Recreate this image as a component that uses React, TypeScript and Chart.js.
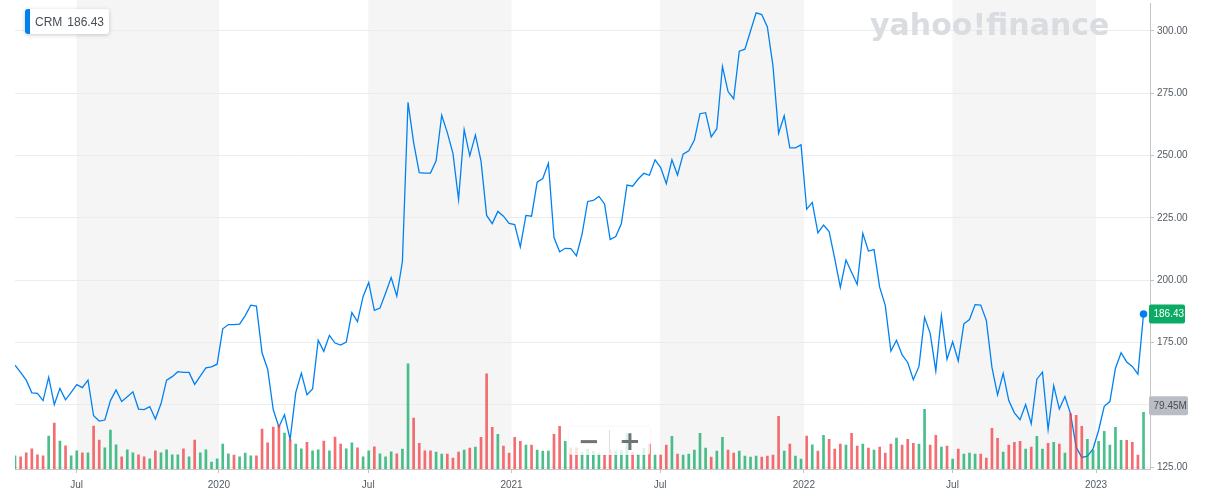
import { useEffect, useRef } from 'react';
import { Chart, registerables } from 'chart.js';

Chart.register(...registerables);

const symbol = 'CRM';

// Weekly closing prices (USD), oldest first
const closes: number[] = [
  165.9, 163.0, 159.9, 154.8, 154.6, 151.7, 161.1, 150.1, 156.6, 152.0,
  155.0, 158.1, 156.9, 159.9, 145.6, 143.5, 143.9, 151.7, 156.0, 151.3,
  153.2, 155.2, 148.3, 148.1, 149.3, 144.3, 150.4, 159.9, 161.3, 163.3,
  163.0, 163.0, 158.2, 161.5, 164.8, 165.2, 166.3, 180.5, 182.2, 182.2,
  182.4, 185.8, 190.0, 189.6, 170.9, 164.3, 148.0, 141.1, 146.0, 136.1,
  154.9, 162.7, 154.1, 156.4, 175.9, 171.5, 177.9, 174.8, 174.0, 175.2,
  187.0, 183.4, 193.5, 199.1, 187.9, 188.8, 194.8, 201.1, 193.6, 207.5,
  271.4, 255.2, 243.2, 243.0, 243.0, 247.9, 266.2, 259.2, 250.9, 232.4,
  260.4, 249.9, 258.3, 247.8, 226.0, 222.7, 227.6, 225.7, 222.8, 222.3,
  213.4, 226.0, 225.7, 239.3, 240.8, 246.9, 217.1, 211.4, 212.8, 212.7,
  209.8, 218.5, 231.6, 232.0, 233.6, 230.6, 216.3, 217.5, 222.7, 238.2,
  237.7, 240.6, 242.9, 242.1, 248.3, 245.2, 238.7, 248.3, 242.2, 250.6,
  251.9, 256.2, 266.8, 267.2, 257.5, 260.8, 285.8, 275.7, 272.8, 291.9,
  292.7, 300.0, 307.3, 306.6, 301.6, 286.0, 258.9, 266.0, 253.1, 253.1,
  254.3, 228.5, 231.2, 219.0, 222.1, 219.5, 208.7, 197.1, 208.1, 203.2,
  198.3, 218.8, 211.7, 212.3, 197.2, 189.9, 171.6, 175.9, 170.0, 167.0,
  160.1, 165.4, 185.1, 178.7, 163.6, 185.8, 168.3, 175.3, 167.6, 182.5,
  184.2, 190.2, 190.0, 183.9, 165.0, 154.0, 162.6, 151.7, 146.8, 144.0,
  150.1, 142.4, 160.3, 163.1, 140.1, 157.7, 148.3, 153.3, 146.4, 133.1,
  128.9, 129.4, 132.3, 139.8, 149.4, 151.3, 164.7, 170.9, 167.2, 165.4,
  162.3, 186.43,
];

// Weekly volume (millions of shares)
const volumesM: number[] = [
  18.5, 17.1, 22.7, 28.2, 19.9, 18.5, 46.3, 64.4, 39.3, 32.4,
  18.5, 25.4, 22.7, 22.7, 60.2, 40.7, 29.6, 54.6, 33.8, 17.1,
  26.8, 22.7, 19.9, 17.1, 14.3, 25.4, 22.7, 26.8, 19.9, 19.9,
  28.2, 17.1, 40.7, 22.7, 26.8, 9.7, 14.3, 34.8, 21.3, 19.5,
  17.1, 22.2, 18.5, 18.5, 56.0, 36.6, 58.8, 61.2, 50.5, 41.3,
  34.8, 28.2, 37.5, 25.4, 26.8, 39.3, 25.4, 44.9, 34.8, 28.2,
  36.6, 29.6, 17.1, 25.4, 31.0, 21.3, 17.1, 24.0, 21.3, 27.8,
  147.3, 71.3, 36.1, 25.4, 25.4, 23.6, 20.9, 20.9, 15.3, 23.6,
  26.4, 29.2, 30.6, 44.5, 133.4, 58.4, 48.7, 32.0, 22.2, 44.5,
  38.9, 33.4, 33.4, 26.4, 25.0, 25.0, 48.7, 59.8, 38.9, 29.6,
  29.6, 23.6, 27.8, 25.0, 22.2, 19.5, 26.4, 25.0, 26.4, 49.6,
  23.6, 20.9, 29.2, 34.8, 19.5, 19.5, 33.4, 45.9, 20.9, 19.5,
  20.9, 26.4, 50.0, 29.2, 16.7, 25.0, 44.5, 26.4, 22.2, 25.0,
  18.1, 16.7, 18.1, 16.7, 18.1, 19.5, 73.7, 25.0, 34.8, 18.1,
  13.9, 46.3, 33.8, 25.0, 47.3, 41.7, 27.8, 34.8, 33.4, 50.0,
  32.0, 34.8, 29.2, 26.4, 30.6, 22.2, 34.8, 43.5, 33.4, 41.7,
  36.1, 34.8, 83.8, 33.4, 47.3, 30.6, 32.0, 13.9, 27.8, 20.9,
  22.2, 20.9, 20.9, 15.3, 57.0, 43.1, 23.6, 33.4, 37.5, 38.9,
  27.8, 30.6, 45.9, 27.8, 36.1, 37.5, 34.8, 22.2, 77.8, 75.1,
  59.8, 41.7, 26.4, 38.9, 52.8, 33.4, 58.4, 40.3, 40.3, 37.5,
  19.5, 79.45,
];

// G = up week (green volume bar), R = down week (red volume bar)
const volumeDirection: string[] = (
  'GRRRRRGRGR' + 'GGRGRRGGGR' + 'GGRRGRGGGG' + 'RGRGGGGGGR' + 'GGGRRRRRGR' +
  'GGRGGRGRRG' + 'GRGGRGGGRG' + 'GRRRRGGRRR' + 'GRGRRRGRRR' + 'RGRGGGRRGR' +
  'RGGGGRRGGG' + 'RGGRGRRGRG' + 'GGGGRGGRRG' + 'GGGRRRRGRG' + 'GRGRGRRRGR' +
  'RGRGRRRGRR' + 'RGGRRGRGRG' + 'GGRRRRGRRR' + 'GRGGRGRGRR' + 'RGGGGGGGRR' +
  'RG'
).split('');

// x-axis labels and the week index at which each falls
const tickLabels: string[] = ['Jul', '2020', 'Jul', '2021', 'Jul', '2022', 'Jul', '2023'];
const tickIndex: number[] = [10.99, 36.32, 62.91, 88.44, 114.9, 140.5, 166.97, 192.54];

const priceTicks: number[] = [125, 150, 175, 200, 225, 250, 275, 300];
const lastVolumeLabel = '79.45M';

const FONT = "'Liberation Sans', Arial, Helvetica, sans-serif";
const LINE_BLUE = '#0081f2';
const GREEN_BAR = 'rgba(15,170,100,0.75)';
const RED_BAR = 'rgba(240,60,65,0.75)';

function roundRect(ctx: CanvasRenderingContext2D, x: number, y: number, w: number, h: number, r: number) {
  ctx.beginPath();
  ctx.moveTo(x + r, y);
  ctx.lineTo(x + w - r, y);
  ctx.quadraticCurveTo(x + w, y, x + w, y + r);
  ctx.lineTo(x + w, y + h - r);
  ctx.quadraticCurveTo(x + w, y + h, x + w - r, y + h);
  ctx.lineTo(x + r, y + h);
  ctx.quadraticCurveTo(x, y + h, x, y + h - r);
  ctx.lineTo(x, y + r);
  ctx.quadraticCurveTo(x, y, x + r, y);
  ctx.closePath();
}

const bandsPlugin = {
  id: 'bands',
  beforeDraw(chart: any) {
    const { ctx, chartArea, scales } = chart;
    const xs = scales.x;
    ctx.save();
    ctx.fillStyle = '#ffffff';
    ctx.fillRect(0, 0, chart.width, chart.height);
    ctx.fillStyle = '#f5f5f5';
    for (let k = 0; k + 1 < tickIndex.length; k += 2) {
      const a = xs.getPixelForValue(tickIndex[k]);
      const b = xs.getPixelForValue(tickIndex[k + 1]);
      ctx.fillRect(a, 0, b - a, chartArea.bottom);
    }
    ctx.restore();
  },
};

const badgesPlugin = {
  id: 'badges',
  afterDraw(chart: any) {
    const { ctx, chartArea, scales } = chart;
    const last = closes[closes.length - 1];
    const lastVol = volumesM[volumesM.length - 1];
    const py = scales.y.getPixelForValue(last);
    const vy = scales.vol.getPixelForValue(lastVol) - 6.5;
    const x0 = chartArea.right - 1;
    ctx.save();
    ctx.font = `10px ${FONT}`;
    ctx.textBaseline = 'middle';
    ctx.textAlign = 'left';
    // price badge
    ctx.fillStyle = '#0bab64';
    roundRect(ctx, x0, py - 9.5, 36, 19, 2);
    ctx.fill();
    ctx.fillStyle = '#ffffff';
    ctx.fillText(last.toFixed(2), x0 + 4.5, py + 0.5);
    // volume badge
    ctx.fillStyle = '#babdc3';
    roundRect(ctx, x0, vy - 9.5, 39, 19, 2);
    ctx.fill();
    ctx.fillStyle = '#464e56';
    ctx.fillText(lastVolumeLabel, x0 + 4.5, vy + 0.5);
    ctx.restore();
  },
};

export default function App() {
  const canvasRef = useRef<HTMLCanvasElement | null>(null);

  useEffect(() => {
    const canvas = canvasRef.current;
    if (!canvas) return;
    Chart.defaults.font.family = FONT;
    const lastIdx = closes.length - 1;
    const chart = new Chart(canvas, {
      type: 'line',
      data: {
        datasets: [
          {
            type: 'bar',
            label: 'Volume',
            yAxisID: 'vol',
            order: 0,
            data: volumesM.map((v, i) => ({ x: i, y: v })),
            backgroundColor: volumeDirection.map((d) => (d === 'G' ? GREEN_BAR : RED_BAR)),
            borderWidth: 0,
            barThickness: 2,
          } as any,
          {
            type: 'line',
            label: symbol,
            yAxisID: 'y',
            order: 1,
            data: closes.map((v, i) => ({ x: i, y: v })),
            borderColor: LINE_BLUE,
            borderWidth: 1.3,
            tension: 0,
            pointRadius: (c: any) => (c.dataIndex === lastIdx ? 3.8 : 0),
            pointBackgroundColor: LINE_BLUE,
            pointBorderWidth: 0,
            pointHoverRadius: 0,
          } as any,
        ],
      },
      options: {
        responsive: false,
        animation: false,
        events: [],
        layout: { padding: { left: 15, right: 0, top: 0, bottom: 0 } },
        plugins: {
          legend: { display: false },
          tooltip: { enabled: false },
          title: { display: false },
        },
        scales: {
          x: {
            type: 'linear',
            position: 'bottom',
            offset: false,
            min: 0,
            max: 202.15,
            afterBuildTicks: (s: any) => {
              s.ticks = tickIndex.map((v) => ({ value: v }));
            },
            afterFit: (s: any) => {
              s.height = 27;
              s.paddingLeft = 0;
              s.paddingRight = 0;
            },
            ticks: {
              autoSkip: false,
              maxRotation: 0,
              minRotation: 0,
              padding: 6,
              color: '#535b62',
              font: { size: 10, family: FONT },
              callback: (_v: any, i: number) => tickLabels[i],
            },
            grid: {
              offset: false,
              drawOnChartArea: false,
              drawTicks: true,
              tickLength: 4,
              tickColor: '#c4c4c4',
            },
            border: { display: true, color: '#c4c4c4' },
          },
          y: {
            type: 'linear',
            position: 'right',
            min: 124.25,
            max: 310.9,
            afterBuildTicks: (s: any) => {
              s.ticks = priceTicks.map((v) => ({ value: v }));
            },
            afterFit: (s: any) => {
              s.width = 63;
              s.paddingTop = 0;
              s.paddingBottom = 0;
            },
            ticks: {
              padding: 3,
              color: '#535b62',
              font: { size: 10, family: FONT },
              callback: (v: any) => (Number(v) === 150 ? '' : Number(v).toFixed(2)),
            },
            grid: { color: '#ececec', tickColor: '#c4c4c4', tickLength: 4 },
            border: { display: true, color: '#c4c4c4' },
          },
          vol: {
            type: 'linear',
            display: false,
            min: 0,
            max: 652,
          },
        },
      } as any,
      plugins: [bandsPlugin, badgesPlugin],
    });
    return () => chart.destroy();
  }, []);

  return (
    <div
      style={{
        position: 'absolute',
        left: 0,
        top: 0,
        width: 1213,
        height: 496,
        background: '#fff',
        overflow: 'hidden',
        fontFamily: FONT,
      }}
    >
      <canvas ref={canvasRef} width={1213} height={496} style={{ display: 'block' }} />
      <div
        style={{
          position: 'absolute',
          left: 870,
          top: 7,
          fontFamily: "'DejaVu Sans', sans-serif",
          fontWeight: 700,
          fontSize: 30,
          lineHeight: '35px',
          color: '#d9dce1',
          whiteSpace: 'nowrap',
          pointerEvents: 'none',
        }}
      >
        yahoo!finance
      </div>
      <div
        style={{
          position: 'absolute',
          left: 25,
          top: 9,
          width: 84,
          height: 25,
          background: '#fff',
          borderRadius: 3,
          boxShadow: '0 1px 4px rgba(0,0,0,0.2)',
          display: 'flex',
          alignItems: 'center',
          overflow: 'hidden',
          fontSize: 12,
          color: '#464e56',
          whiteSpace: 'nowrap',
        }}
      >
        <div style={{ width: 5, alignSelf: 'stretch', background: LINE_BLUE }} />
        <span style={{ marginLeft: 5 }}>{symbol}</span>
        <span style={{ marginLeft: 5 }}>{closes[closes.length - 1].toFixed(2)}</span>
      </div>
      <div
        style={{
          position: 'absolute',
          left: 569,
          top: 427,
          width: 81,
          height: 28,
          background: 'rgba(255,255,255,0.8)',
          borderRadius: 3,
          boxShadow: '0 0 3px rgba(0,0,0,0.08)',
          display: 'flex',
          alignItems: 'center',
          fontFamily: "'DejaVu Sans', sans-serif",
          fontWeight: 700,
          fontSize: 26,
          color: '#6e7378',
        }}
      >
        <span style={{ width: 40, textAlign: 'center', lineHeight: '28px' }}>−</span>
        <div style={{ width: 1, height: 22, background: '#dedede' }} />
        <span style={{ width: 40, textAlign: 'center', lineHeight: '28px' }}>+</span>
      </div>
    </div>
  );
}
